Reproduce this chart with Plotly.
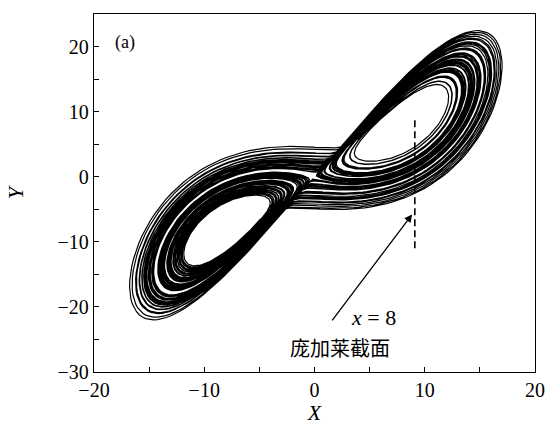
import numpy as np
import plotly.graph_objects as go

# Lorenz-type system parameters (the chart is a simulated X–Y phase portrait)
sigma = 10.0
rho = 26.0
beta = 8.0 / 3.0
initial_state = [0.5, 1.0, 1.5]
dt = 0.005
n_transient = 2000
n_steps = 20000

# Axis ticks
x_ticks = [-20, -10, 0, 10, 20]
y_ticks = [-30, -20, -10, 0, 10, 20]
x_range = [-20, 20]
y_range = [-30, 25]

# Poincaré section marker and labels
section_x = 9.1
section_y = [-11.0, 9.3]
arrow_tail = [1.5, -22.3]
arrow_head = [8.85, -5.8]
panel_label = "(a)"
section_label = "<i>x</i> = 8"
section_name = "庞加莱截面"


def f(s):
    x, y, z = s
    return np.array([sigma * (y - x), x * (rho - z) - y, x * y - beta * z])


def integrate(s0, h, n):
    out = np.empty((n, 3))
    s = np.array(s0, float)
    for i in range(n):
        k1 = f(s)
        k2 = f(s + h / 2 * k1)
        k3 = f(s + h / 2 * k2)
        k4 = f(s + h * k3)
        s = s + h / 6 * (k1 + 2 * k2 + 2 * k3 + k4)
        out[i] = s
    return out


traj = integrate(initial_state, dt, n_transient + n_steps)[n_transient:]

fig = go.Figure()
fig.add_trace(go.Scatter(x=traj[:, 0], y=traj[:, 1], mode="lines",
                         line=dict(color="black", width=1.2), hoverinfo="skip"))
fig.add_trace(go.Scatter(x=[section_x, section_x], y=section_y, mode="lines",
                         line=dict(color="black", width=1.6, dash="7px,4px"), hoverinfo="skip"))

serif = "Liberation Serif"
fig.add_annotation(x=arrow_head[0], y=arrow_head[1], ax=arrow_tail[0], ay=arrow_tail[1],
                   xref="x", yref="y", axref="x", ayref="y", text="", showarrow=True,
                   arrowhead=2, arrowsize=1.2, arrowwidth=1.3, arrowcolor="black")
fig.add_annotation(x=-17.2, y=20.6, xref="x", yref="y", text=panel_label, showarrow=False,
                   font=dict(family=serif, size=18, color="black"))
fig.add_annotation(x=3.1, y=-21.6, xref="x", yref="y", text=section_label, showarrow=False,
                   xanchor="left", font=dict(family=serif, size=22, color="black"))
fig.add_annotation(x=2.3, y=-26.2, xref="x", yref="y", text=section_name, showarrow=False,
                   font=dict(family="Noto Sans CJK SC", size=20, color="black"))

axis_common = dict(showline=True, linecolor="black", linewidth=1.3, mirror=True,
                   ticks="inside", ticklen=5, tickwidth=1.1, tickcolor="black",
                   showgrid=False, zeroline=False, automargin=False,
                   tickfont=dict(family=serif, size=20, color="black"),
                   minor=dict(dtick=5, ticks="inside", ticklen=5, tickwidth=1.1, tickcolor="black"))
fig.update_xaxes(range=x_range, tickvals=x_ticks, **axis_common,
                 title=dict(text="<i>X</i>", font=dict(family=serif, size=22, color="black"), standoff=0))
fig.update_yaxes(range=y_range, tickvals=y_ticks, **axis_common,
                 title=dict(text="<i>Y</i>", font=dict(family=serif, size=22, color="black"), standoff=27))
fig.update_layout(width=550, height=425, showlegend=False,
                  plot_bgcolor="white", paper_bgcolor="white",
                  margin=dict(l=94, r=15, t=14, b=53))
fig.write_html("out.html")
